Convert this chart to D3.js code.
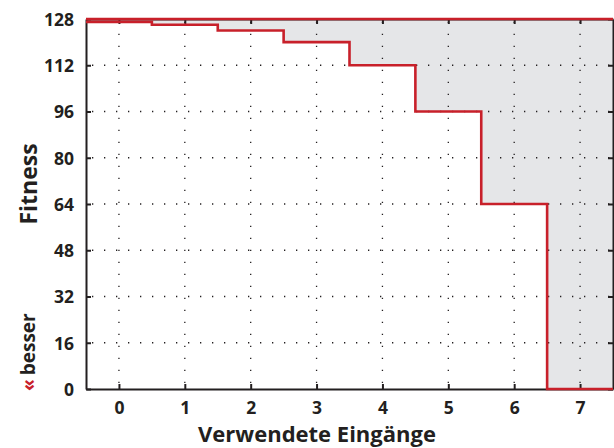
<!DOCTYPE html>
<html>
<head>
<meta charset="utf-8">
<script src="https://cdn.jsdelivr.net/npm/d3@7"></script>
<style>
  html, body { margin: 0; padding: 0; background: #fff; }
  svg { display: block; }
  text { font-family: "Open Sans", "Noto Sans", sans-serif; font-weight: 700; fill: #231f20; }
</style>
</head>
<body>
<svg id="chart" width="614" height="448"></svg>
<script>
// Number of inputs used and the resulting fitness (lower is better)
const inputs = [0, 1, 2, 3, 4, 5, 6, 7];
const fitness = [127, 126, 124, 120, 112, 96, 64, 0];
const yTicks = [0, 16, 32, 48, 64, 80, 96, 112, 128];
const fitnessMax = 128;

const W = 614, H = 448;
const m = { left: 86, right: 1, top: 19, bottom: 59 };
const svg = d3.select("#chart");

const x = d3.scaleLinear().domain([-0.5, 7.5]).range([m.left, W - m.right]);
const y = d3.scaleLinear().domain([0, 128]).range([H - m.bottom, m.top]);

const red = "#c8202a";
const ink = "#231f20";

// Step outline: each input count covers [i-0.5, i+0.5]
const steps = [];
inputs.forEach((v, i) => {
  steps.push([v - 0.5, fitness[i]]);
  steps.push([v + 0.5, fitness[i]]);
});

// Shaded gap between the reachable maximum and the achieved fitness
const area = d3.area()
  .x(d => x(d[0]))
  .y0(y(fitnessMax))
  .y1(d => y(d[1]));
svg.append("path").datum(steps).attr("d", area).attr("fill", "#e5e6e8");

// Dotted grid
const grid = svg.append("g").attr("stroke", ink).attr("stroke-width", 1.3)
  .attr("stroke-dasharray", "1.3 10.7").attr("fill", "none");
yTicks.slice(1, -1).forEach(t => {
  grid.append("line").attr("x1", x(-0.5)).attr("x2", x(7.5))
    .attr("y1", y(t)).attr("y2", y(t)).attr("stroke-dashoffset", -6);
});
inputs.forEach(t => {
  grid.append("line").attr("x1", x(t)).attr("x2", x(t))
    .attr("y1", y(0)).attr("y2", y(128)).attr("stroke-dashoffset", -6);
});

// Axes with inward ticks
const xAxis = d3.axisBottom(x).tickValues(inputs).tickSizeInner(-5).tickSizeOuter(0).tickPadding(13);
const yAxis = d3.axisLeft(y).tickValues(yTicks).tickSizeInner(-5).tickSizeOuter(0).tickPadding(12);

const gx = svg.append("g").attr("transform", `translate(0,${y(0)})`).call(xAxis);
const gy = svg.append("g").attr("transform", `translate(${x(-0.5)},0)`).call(yAxis);
const gxTop = svg.append("g").attr("transform", `translate(0,${y(128)})`)
  .call(d3.axisTop(x).tickValues(inputs).tickSizeInner(-5).tickSizeOuter(0).tickFormat(""));
const gyRight = svg.append("g").attr("transform", `translate(${x(7.5)},0)`)
  .call(d3.axisRight(y).tickValues(yTicks).tickSizeInner(-5).tickSizeOuter(0).tickFormat(""));

[gx, gy, gxTop, gyRight].forEach(g => {
  g.selectAll("path.domain").attr("stroke", ink).attr("stroke-width", 2);
  g.selectAll(".tick line").attr("stroke", ink).attr("stroke-width", 2);
  g.selectAll(".tick text").attr("font-size", 17.5).attr("fill", ink)
    .style("font-family", "'Open Sans', 'Noto Sans', sans-serif").style("font-weight", 700);
});
gy.selectAll(".tick text").attr("dy", "0.36em");

// Upper bound at 128 and fitness steps
svg.append("line").attr("x1", x(-0.5)).attr("x2", x(7.5))
  .attr("y1", y(fitnessMax)).attr("y2", y(fitnessMax))
  .attr("stroke", red).attr("stroke-width", 2.6);
const line = d3.line().x(d => x(d[0])).y(d => y(d[1]));
svg.append("path").datum(steps).attr("d", line)
  .attr("fill", "none").attr("stroke", red).attr("stroke-width", 2.6);

// Axis titles
svg.append("text").attr("x", 317).attr("y", 441.5)
  .attr("text-anchor", "middle").attr("font-size", 22).text("Verwendete Eingänge");
svg.append("text").attr("transform", `translate(37,184) rotate(-90)`)
  .attr("text-anchor", "middle").attr("font-size", 23).text("Fitness");
const better = svg.append("text").attr("transform", `translate(35,391) rotate(-90)`)
  .attr("text-anchor", "start").attr("font-size", 19);
better.append("tspan").attr("fill", red).text("«");
better.append("tspan").attr("dx", 4).text("besser");
</script>
</body>
</html>
